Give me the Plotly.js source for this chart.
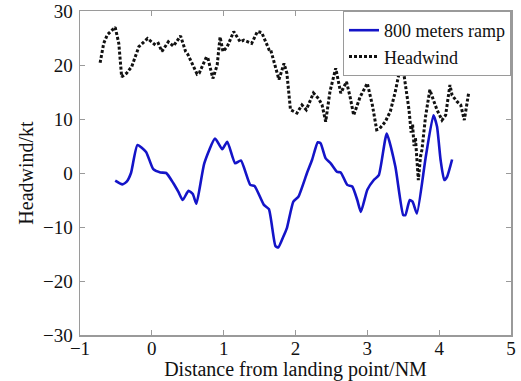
<!DOCTYPE html>
<html><head><meta charset="utf-8">
<script src="https://cdn.plot.ly/plotly-3.0.1.min.js"></script>
<style>html,body{margin:0;padding:0;background:#fff;}#chart{width:521px;height:381px;}</style>
</head><body><div id="chart"></div>
<script>
const rampX = [-0.51,-0.41,-0.35,-0.29,-0.2,-0.08,0.02,0.12,0.2,0.3,0.37,0.43,0.51,0.57,0.62,0.73,0.88,0.98,1.05,1.16,1.24,1.37,1.43,1.56,1.63,1.72,1.76,1.83,1.88,1.97,2.04,2.16,2.23,2.31,2.35,2.42,2.49,2.58,2.63,2.72,2.79,2.86,2.91,3.0,3.09,3.16,3.27,3.39,3.5,3.53,3.59,3.63,3.69,3.81,3.92,3.97,4.02,4.07,4.11,4.18];
const rampY = [-1.4,-2.1,-1.6,0,5.2,3.9,0.7,0.1,0,-1.9,-3.5,-5.0,-3.3,-3.9,-5.7,1.8,6.4,4.4,5.8,1.8,2.3,-2.2,-2.4,-5.9,-6.7,-13.5,-13.8,-11.8,-10.2,-5.3,-4.4,0,2.4,5.7,5.5,2.7,1.8,0.2,0.1,-2.2,-2.5,-5.0,-7.2,-3.1,-1.3,-0.4,7.3,1.2,-7.8,-7.8,-5.0,-5.3,-7.5,2.7,10.7,8.6,2.4,-1.3,-0.7,2.5];

const headX = [-0.72,-0.67,-0.62,-0.51,-0.46,-0.42,-0.35,-0.28,-0.18,-0.06,0.05,0.09,0.14,0.23,0.3,0.4,0.47,0.5,0.63,0.66,0.76,0.78,0.85,0.91,0.95,0.99,1.05,1.14,1.23,1.28,1.39,1.47,1.53,1.63,1.65,1.77,1.84,1.88,1.93,2.02,2.09,2.15,2.25,2.32,2.37,2.42,2.48,2.56,2.63,2.71,2.76,2.81,2.9,3.0,3.07,3.13,3.17,3.25,3.32,3.39,3.48,3.53,3.58,3.61,3.63,3.65,3.67,3.69,3.71,3.74,3.76,3.81,3.87,3.92,3.97,4.04,4.09,4.15,4.18,4.25,4.3,4.35,4.41];
const headY = [20.4,24.0,25.6,27.0,24,17.8,18.5,19.7,23.4,24.9,23.7,24,22.5,24.3,23.5,25.4,22.5,22.0,18.3,18.5,21.5,21.3,17.5,20,25.2,22.5,23.4,26.2,24.3,24.6,24,26.2,26,22.9,23,17.3,20.3,18.5,11.7,11.1,12.6,11.7,14.8,13.8,12.6,9.5,15.1,19.4,14.8,16.9,14.1,10.7,14.1,16.6,12.6,8.0,8.2,9.5,11.4,15.1,21,16.6,11.7,7.5,9,5,6.5,2.5,-1.3,3,4.3,10.4,15.4,13.5,11.7,9.8,10.7,16.3,14.4,13.2,12.6,9.8,14.8];

const xTicks = [-1,0,1,2,3,4,5];
const yTicks = [-30,-20,-10,0,10,20,30];

const SERIF = 'Liberation Serif';

const traces = [
  {x: rampX, y: rampY, name: '800 meters ramp', mode: 'lines',
   line: {color: '#1414c8', width: 2.6, shape: 'spline', smoothing: 0.5}},
  {x: headX, y: headY, name: 'Headwind', mode: 'lines',
   line: {color: '#111111', width: 3, dash: '3px,2px'}}
];

const axisCommon = {
  showgrid: false, zeroline: false, showline: true, mirror: 'ticks',
  linecolor: '#9a9a9a', linewidth: 1.5, ticks: 'inside', ticklen: 5,
  tickcolor: '#9a9a9a', tickwidth: 1,
  tickfont: {family: SERIF, size: 19, color: '#111'}
};

const layout = {
  width: 521, height: 381,
  font: {family: SERIF, size: 19, color: '#111'},
  margin: {l: 80, r: 10, t: 11, b: 46},
  paper_bgcolor: '#fff', plot_bgcolor: '#fff',
  showlegend: true,
  legend: {x: 1, y: 1, xanchor: 'right', yanchor: 'top', bgcolor: '#fff',
    bordercolor: '#9a9a9a', borderwidth: 1,
    font: {family: SERIF, size: 18, color: '#111'},
    tracegroupgap: 0, itemwidth: 30},
  xaxis: Object.assign({}, axisCommon, {range: [-1, 5], tickvals: xTicks, ticktext: xTicks.map(v => v < 0 ? '\u2212' + Math.abs(v) : String(v)),
    ticklabelstandoff: -4,
    title: {text: 'Distance from landing point/NM', standoff: 6, font: {family: SERIF, size: 20, color: '#111'}}}),
  yaxis: Object.assign({}, axisCommon, {range: [-30, 30], tickvals: yTicks, ticktext: yTicks.map(v => v < 0 ? '\u2212' + Math.abs(v) : String(v)),
    ticklabelstandoff: 2,
    title: {text: 'Headwind/kt', standoff: 4, font: {family: SERIF, size: 20, color: '#111'}}})
};

Plotly.newPlot('chart', traces, layout, {displayModeBar: false, staticPlot: true});
</script></body></html>
